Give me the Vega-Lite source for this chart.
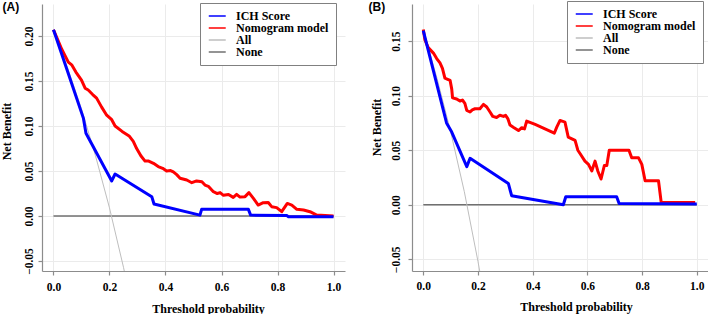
{
  "$schema": "https://vega.github.io/schema/vega-lite/v6.json",
  "padding": 0,
  "background": "white",
  "bounds": "flush",
  "spacing": 67,
  "config": {
    "view": {"stroke": null},
    "axis": {
      "labelFont": "Liberation Serif", "labelFontWeight": "bold", "labelFontSize": 11.5, "labelColor": "#000",
      "titleFont": "Liberation Serif", "titleFontWeight": "bold", "titleFontSize": 12, "titleColor": "#000",
      "domainColor": "#8C8C8C", "tickColor": "#8C8C8C", "domainWidth": 1.2, "tickWidth": 1.2, "tickSize": 4,
      "gridColor": "#EBEBEB", "gridWidth": 1, "labelFlush": false, "labelOverlap": false
    },
    "legend": {
      "orient": "none", "symbolType": "M-1,0H3", "symbolSize": 72, "symbolStrokeWidth": 1.5,
      "labelFont": "Liberation Serif", "labelFontWeight": "bold", "labelFontSize": 12, "labelColor": "#000",
      "strokeColor": "#808080", "fillColor": "white", "padding": 7, "labelOffset": 17
    }
  },
  "data": {"values": [
    {"p":"A","m":"None","t":0,"nb":0},{"p":"A","m":"None","t":1,"nb":0},
    {"p":"A","m":"All","t":0,"nb":0.207},{"p":"A","m":"All","t":0.05,"nb":0.165},{"p":"A","m":"All","t":0.1,"nb":0.119},{"p":"A","m":"All","t":0.15,"nb":0.067},{"p":"A","m":"All","t":0.2,"nb":0.009},{"p":"A","m":"All","t":0.25,"nb":-0.057},{"p":"A","m":"All","t":0.27,"nb":-0.086},
    {"p":"A","m":"Nomogram model","t":0,"nb":0.207},{"p":"A","m":"Nomogram model","t":0.03,"nb":0.185},{"p":"A","m":"Nomogram model","t":0.053,"nb":0.171},{"p":"A","m":"Nomogram model","t":0.065,"nb":0.168},{"p":"A","m":"Nomogram model","t":0.08,"nb":0.16},{"p":"A","m":"Nomogram model","t":0.1,"nb":0.151},{"p":"A","m":"Nomogram model","t":0.113,"nb":0.142},{"p":"A","m":"Nomogram model","t":0.124,"nb":0.14},{"p":"A","m":"Nomogram model","t":0.14,"nb":0.135},{"p":"A","m":"Nomogram model","t":0.154,"nb":0.131},{"p":"A","m":"Nomogram model","t":0.172,"nb":0.121},{"p":"A","m":"Nomogram model","t":0.19,"nb":0.112},{"p":"A","m":"Nomogram model","t":0.208,"nb":0.107},{"p":"A","m":"Nomogram model","t":0.22,"nb":0.1},{"p":"A","m":"Nomogram model","t":0.245,"nb":0.094},{"p":"A","m":"Nomogram model","t":0.27,"nb":0.089},{"p":"A","m":"Nomogram model","t":0.285,"nb":0.083},{"p":"A","m":"Nomogram model","t":0.297,"nb":0.075},{"p":"A","m":"Nomogram model","t":0.312,"nb":0.067},{"p":"A","m":"Nomogram model","t":0.327,"nb":0.061},{"p":"A","m":"Nomogram model","t":0.34,"nb":0.061},{"p":"A","m":"Nomogram model","t":0.357,"nb":0.0585},{"p":"A","m":"Nomogram model","t":0.374,"nb":0.055},{"p":"A","m":"Nomogram model","t":0.39,"nb":0.053},{"p":"A","m":"Nomogram model","t":0.404,"nb":0.05},{"p":"A","m":"Nomogram model","t":0.418,"nb":0.0505},{"p":"A","m":"Nomogram model","t":0.428,"nb":0.049},{"p":"A","m":"Nomogram model","t":0.44,"nb":0.046},{"p":"A","m":"Nomogram model","t":0.452,"nb":0.042},{"p":"A","m":"Nomogram model","t":0.476,"nb":0.04},{"p":"A","m":"Nomogram model","t":0.494,"nb":0.037},{"p":"A","m":"Nomogram model","t":0.511,"nb":0.039},{"p":"A","m":"Nomogram model","t":0.53,"nb":0.038},{"p":"A","m":"Nomogram model","t":0.541,"nb":0.0344},{"p":"A","m":"Nomogram model","t":0.553,"nb":0.033},{"p":"A","m":"Nomogram model","t":0.571,"nb":0.027},{"p":"A","m":"Nomogram model","t":0.585,"nb":0.025},{"p":"A","m":"Nomogram model","t":0.595,"nb":0.026},{"p":"A","m":"Nomogram model","t":0.607,"nb":0.023},{"p":"A","m":"Nomogram model","t":0.625,"nb":0.024},{"p":"A","m":"Nomogram model","t":0.642,"nb":0.0207},{"p":"A","m":"Nomogram model","t":0.654,"nb":0.024},{"p":"A","m":"Nomogram model","t":0.666,"nb":0.021},{"p":"A","m":"Nomogram model","t":0.684,"nb":0.0215},{"p":"A","m":"Nomogram model","t":0.698,"nb":0.026},{"p":"A","m":"Nomogram model","t":0.714,"nb":0.0196},{"p":"A","m":"Nomogram model","t":0.731,"nb":0.0122},{"p":"A","m":"Nomogram model","t":0.749,"nb":0.0148},{"p":"A","m":"Nomogram model","t":0.767,"nb":0.015},{"p":"A","m":"Nomogram model","t":0.779,"nb":0.0104},{"p":"A","m":"Nomogram model","t":0.797,"nb":0.0093},{"p":"A","m":"Nomogram model","t":0.815,"nb":0.0048},{"p":"A","m":"Nomogram model","t":0.835,"nb":0.014},{"p":"A","m":"Nomogram model","t":0.851,"nb":0.0122},{"p":"A","m":"Nomogram model","t":0.869,"nb":0.0074},{"p":"A","m":"Nomogram model","t":0.893,"nb":0.0067},{"p":"A","m":"Nomogram model","t":0.916,"nb":0.0048},{"p":"A","m":"Nomogram model","t":0.94,"nb":0.001},{"p":"A","m":"Nomogram model","t":1,"nb":0},
    {"p":"A","m":"ICH Score","t":0,"nb":0.207},{"p":"A","m":"ICH Score","t":0.107,"nb":0.1085},{"p":"A","m":"ICH Score","t":0.116,"nb":0.092},{"p":"A","m":"ICH Score","t":0.208,"nb":0.039},{"p":"A","m":"ICH Score","t":0.22,"nb":0.0467},{"p":"A","m":"ICH Score","t":0.351,"nb":0.0215},{"p":"A","m":"ICH Score","t":0.359,"nb":0.0133},{"p":"A","m":"ICH Score","t":0.523,"nb":0.001},{"p":"A","m":"ICH Score","t":0.529,"nb":0.0074},{"p":"A","m":"ICH Score","t":0.696,"nb":0.0074},{"p":"A","m":"ICH Score","t":0.704,"nb":0.001},{"p":"A","m":"ICH Score","t":0.833,"nb":0.0006},{"p":"A","m":"ICH Score","t":0.839,"nb":-0.0007},{"p":"A","m":"ICH Score","t":1,"nb":-0.0007},
    {"p":"B","m":"None","t":0,"nb":0},{"p":"B","m":"None","t":1,"nb":0},
    {"p":"B","m":"All","t":0,"nb":0.16},{"p":"B","m":"All","t":0.05,"nb":0.116},{"p":"B","m":"All","t":0.1,"nb":0.067},{"p":"B","m":"All","t":0.15,"nb":0.012},{"p":"B","m":"All","t":0.2,"nb":-0.052},{"p":"B","m":"All","t":0.22,"nb":-0.08},
    {"p":"B","m":"Nomogram model","t":0,"nb":0.1607},{"p":"B","m":"Nomogram model","t":0.006,"nb":0.151},{"p":"B","m":"Nomogram model","t":0.018,"nb":0.144},{"p":"B","m":"Nomogram model","t":0.037,"nb":0.139},{"p":"B","m":"Nomogram model","t":0.049,"nb":0.134},{"p":"B","m":"Nomogram model","t":0.061,"nb":0.13},{"p":"B","m":"Nomogram model","t":0.07,"nb":0.125},{"p":"B","m":"Nomogram model","t":0.079,"nb":0.116},{"p":"B","m":"Nomogram model","t":0.089,"nb":0.115},{"p":"B","m":"Nomogram model","t":0.098,"nb":0.114},{"p":"B","m":"Nomogram model","t":0.104,"nb":0.106},{"p":"B","m":"Nomogram model","t":0.107,"nb":0.098},{"p":"B","m":"Nomogram model","t":0.122,"nb":0.097},{"p":"B","m":"Nomogram model","t":0.134,"nb":0.095},{"p":"B","m":"Nomogram model","t":0.143,"nb":0.096},{"p":"B","m":"Nomogram model","t":0.152,"nb":0.093},{"p":"B","m":"Nomogram model","t":0.159,"nb":0.0865},{"p":"B","m":"Nomogram model","t":0.171,"nb":0.085},{"p":"B","m":"Nomogram model","t":0.179,"nb":0.087},{"p":"B","m":"Nomogram model","t":0.189,"nb":0.088},{"p":"B","m":"Nomogram model","t":0.207,"nb":0.088},{"p":"B","m":"Nomogram model","t":0.22,"nb":0.092},{"p":"B","m":"Nomogram model","t":0.232,"nb":0.0896},{"p":"B","m":"Nomogram model","t":0.244,"nb":0.085},{"p":"B","m":"Nomogram model","t":0.254,"nb":0.081},{"p":"B","m":"Nomogram model","t":0.268,"nb":0.08},{"p":"B","m":"Nomogram model","t":0.28,"nb":0.082},{"p":"B","m":"Nomogram model","t":0.293,"nb":0.081},{"p":"B","m":"Nomogram model","t":0.301,"nb":0.082},{"p":"B","m":"Nomogram model","t":0.309,"nb":0.079},{"p":"B","m":"Nomogram model","t":0.317,"nb":0.073},{"p":"B","m":"Nomogram model","t":0.329,"nb":0.071},{"p":"B","m":"Nomogram model","t":0.348,"nb":0.068},{"p":"B","m":"Nomogram model","t":0.36,"nb":0.0706},{"p":"B","m":"Nomogram model","t":0.37,"nb":0.0696},{"p":"B","m":"Nomogram model","t":0.378,"nb":0.0767},{"p":"B","m":"Nomogram model","t":0.409,"nb":0.0736},{"p":"B","m":"Nomogram model","t":0.445,"nb":0.0696},{"p":"B","m":"Nomogram model","t":0.479,"nb":0.0656},{"p":"B","m":"Nomogram model","t":0.488,"nb":0.0712},{"p":"B","m":"Nomogram model","t":0.5,"nb":0.0773},{"p":"B","m":"Nomogram model","t":0.518,"nb":0.0758},{"p":"B","m":"Nomogram model","t":0.53,"nb":0.062},{"p":"B","m":"Nomogram model","t":0.555,"nb":0.059},{"p":"B","m":"Nomogram model","t":0.565,"nb":0.05},{"p":"B","m":"Nomogram model","t":0.573,"nb":0.047},{"p":"B","m":"Nomogram model","t":0.591,"nb":0.04},{"p":"B","m":"Nomogram model","t":0.604,"nb":0.037},{"p":"B","m":"Nomogram model","t":0.616,"nb":0.031},{"p":"B","m":"Nomogram model","t":0.628,"nb":0.04},{"p":"B","m":"Nomogram model","t":0.638,"nb":0.031},{"p":"B","m":"Nomogram model","t":0.65,"nb":0.0236},{"p":"B","m":"Nomogram model","t":0.662,"nb":0.036},{"p":"B","m":"Nomogram model","t":0.671,"nb":0.036},{"p":"B","m":"Nomogram model","t":0.68,"nb":0.05},{"p":"B","m":"Nomogram model","t":0.752,"nb":0.05},{"p":"B","m":"Nomogram model","t":0.762,"nb":0.043},{"p":"B","m":"Nomogram model","t":0.787,"nb":0.043},{"p":"B","m":"Nomogram model","t":0.799,"nb":0.037},{"p":"B","m":"Nomogram model","t":0.811,"nb":0.022},{"p":"B","m":"Nomogram model","t":0.86,"nb":0.022},{"p":"B","m":"Nomogram model","t":0.87,"nb":0.002},{"p":"B","m":"Nomogram model","t":0.994,"nb":0.002},
    {"p":"B","m":"ICH Score","t":0,"nb":0.1595},{"p":"B","m":"ICH Score","t":0.085,"nb":0.075},{"p":"B","m":"ICH Score","t":0.104,"nb":0.0666},{"p":"B","m":"ICH Score","t":0.159,"nb":0.035},{"p":"B","m":"ICH Score","t":0.171,"nb":0.0426},{"p":"B","m":"ICH Score","t":0.311,"nb":0.0196},{"p":"B","m":"ICH Score","t":0.323,"nb":0.0083},{"p":"B","m":"ICH Score","t":0.512,"nb":0},{"p":"B","m":"ICH Score","t":0.521,"nb":0.0074},{"p":"B","m":"ICH Score","t":0.707,"nb":0.0074},{"p":"B","m":"ICH Score","t":0.716,"nb":0.0012},{"p":"B","m":"ICH Score","t":1,"nb":0.0006}
  ]},
  "resolve": {"legend": {"color": "independent"}},
  "hconcat": [
    {
      "width": 303, "height": 267,
      "transform": [{"filter": "datum.p === 'A'"}],
      "resolve": {"axis": {"x": "independent"}},
      "encoding": {
        "y": {"field": "nb", "type": "quantitative", "scale": {"domain": [-0.0611, 0.2356], "nice": false, "zero": false},
          "axis": {"values": [-0.05, 0, 0.05, 0.1, 0.15, 0.2], "format": ".2f", "labelAngle": 270, "labelAlign": "center", "labelBaseline": "bottom", "labelPadding": 4, "title": "Net Benefit", "titleAngle": 270, "titleX": -36, "titleY": 127, "titleAlign": "center", "titleBaseline": "middle", "grid": true}},
        "color": {"field": "m", "type": "nominal",
          "scale": {"domain": ["ICH Score", "Nomogram model", "All", "None"], "range": ["#0000FF", "#FF0000", "#BEBEBE", "#707070"]},
          "legend": {"title": null, "legendX": 158, "legendY": -1, "rowPadding": -2}}
      },
      "layer": [
        {"transform": [{"filter": "datum.m === 'None'"}], "mark": {"type": "line", "strokeWidth": 1.5, "clip": true},
          "encoding": {"x": {"field": "t", "type": "quantitative", "scale": {"domain": [-0.041, 1.041], "nice": false, "zero": false},
            "axis": {"orient": "top", "domain": false, "ticks": false, "labels": false, "grid": false, "title": "(A)", "titleFont": "Liberation Sans", "titleFontSize": 12, "titleX": -40, "titleY": 6, "titleAlign": "left", "titleBaseline": "alphabetic", "titleAngle": 0}}}},
        {"transform": [{"filter": "datum.m === 'All'"}], "mark": {"type": "line", "strokeWidth": 1, "clip": true},
          "encoding": {"x": {"field": "t", "type": "quantitative",
            "axis": {"values": [0, 0.2, 0.4, 0.6, 0.8, 1], "format": ".1f", "labelPadding": 6, "title": "Threshold probability", "titleX": 166, "titleY": 37, "titleAlign": "center", "titleBaseline": "middle", "grid": true}}}},
        {"transform": [{"filter": "datum.m === 'Nomogram model'"}], "mark": {"type": "line", "strokeWidth": 3, "clip": true, "strokeJoin": "round"},
          "encoding": {"x": {"field": "t", "type": "quantitative", "axis": null}}},
        {"transform": [{"filter": "datum.m === 'ICH Score'"}], "mark": {"type": "line", "strokeWidth": 3, "clip": true, "strokeJoin": "round"},
          "encoding": {"x": {"field": "t", "type": "quantitative", "axis": null}}}
      ]
    },
    {
      "width": 296, "height": 267,
      "transform": [{"filter": "datum.p === 'B'"}],
      "resolve": {"axis": {"x": "independent"}},
      "encoding": {
        "y": {"field": "nb", "type": "quantitative", "scale": {"domain": [-0.0607, 0.184], "nice": false, "zero": false},
          "axis": {"values": [-0.05, 0, 0.05, 0.1, 0.15], "format": ".2f", "labelAngle": 270, "labelAlign": "center", "labelBaseline": "bottom", "labelPadding": 7, "title": "Net Benefit", "titleAngle": 270, "titleX": -36, "titleY": 123, "titleAlign": "center", "titleBaseline": "middle", "grid": true}},
        "color": {"field": "m", "type": "nominal",
          "scale": {"domain": ["ICH Score", "Nomogram model", "All", "None"], "range": ["#0000FF", "#FF0000", "#BEBEBE", "#707070"]},
          "legend": {"title": null, "legendX": 155, "legendY": -3, "rowPadding": -2}}
      },
      "layer": [
        {"transform": [{"filter": "datum.m === 'None'"}], "mark": {"type": "line", "strokeWidth": 1.5, "clip": true},
          "encoding": {"x": {"field": "t", "type": "quantitative", "scale": {"domain": [-0.0413, 1.041], "nice": false, "zero": false},
            "axis": {"orient": "top", "domain": false, "ticks": false, "labels": false, "grid": false, "title": "(B)", "titleFont": "Liberation Sans", "titleFontSize": 12, "titleX": -44, "titleY": 6, "titleAlign": "left", "titleBaseline": "alphabetic", "titleAngle": 0}}}},
        {"transform": [{"filter": "datum.m === 'All'"}], "mark": {"type": "line", "strokeWidth": 1, "clip": true},
          "encoding": {"x": {"field": "t", "type": "quantitative",
            "axis": {"values": [0, 0.2, 0.4, 0.6, 0.8, 1], "format": ".1f", "labelPadding": 5, "title": "Threshold probability", "titleX": 164, "titleY": 35, "titleAlign": "center", "titleBaseline": "middle", "grid": true}}}},
        {"transform": [{"filter": "datum.m === 'Nomogram model'"}], "mark": {"type": "line", "strokeWidth": 3, "clip": true, "strokeJoin": "round"},
          "encoding": {"x": {"field": "t", "type": "quantitative", "axis": null}}},
        {"transform": [{"filter": "datum.m === 'ICH Score'"}], "mark": {"type": "line", "strokeWidth": 3, "clip": true, "strokeJoin": "round"},
          "encoding": {"x": {"field": "t", "type": "quantitative", "axis": null}}}
      ]
    }
  ]
}
